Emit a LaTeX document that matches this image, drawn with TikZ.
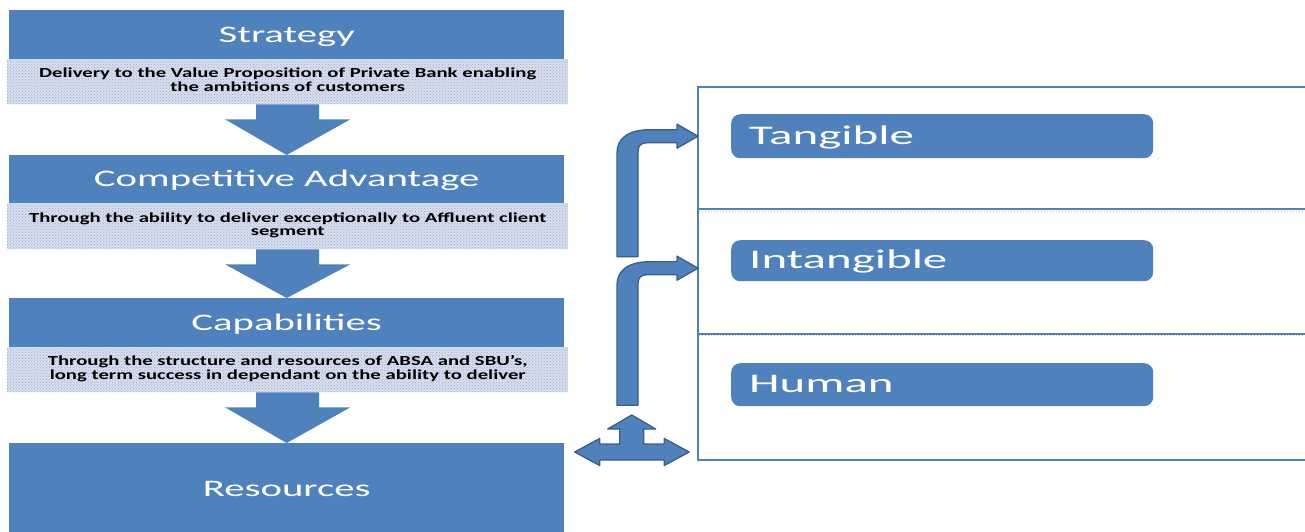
\documentclass[tikz,border=0pt]{standalone}
\usepackage{fontspec}
\setmainfont{Carlito}
\usepackage{graphicx}
\usetikzlibrary{patterns,calc}

\definecolor{boxblue}{HTML}{4F81BD}
\definecolor{edgeblue}{HTML}{385D8A}
\definecolor{bandbase}{HTML}{D6DEEC}
\definecolor{banddot}{HTML}{9DB0D2}

% wide lettering used throughout the chart
\newcommand{\headtxt}[1]{{\fontsize{23.7}{28}\selectfont\scalebox{1.72}[1]{#1}}}
\newcommand{\tagtxt}[1]{{\fontsize{26.9}{30}\selectfont\scalebox{1.82}[1]{#1}}}
\newcommand{\notetxt}[2]{{\fontsize{13.8}{13.5}\selectfont\bfseries\raisebox{-2pt}{\scalebox{1.5}[1]{\begin{tabular}{@{}c@{}}#1\\#2\end{tabular}}}}}

% bent block arrow whose tip sits at the local origin; #1 = shaft length below the tip
\newcommand{\bentarrow}[1]{%
  (-81,#1) -- (-81,16.5) .. controls (-81,2.5) and (-70,-6.5) .. (-48,-6.5)
  -- (-21,-6.5) -- (-21,-12) -- (0,0) -- (-21,12) -- (-21,6.5) -- (-51,6.5)
  .. controls (-57,6.5) and (-60,9.5) .. (-60,15.5) -- (-60,#1) -- cycle}

\begin{document}
\begin{tikzpicture}[x=1pt,y=-1pt,
  headbox/.style={fill=boxblue, text=white, inner sep=0pt, anchor=north west,
                  text height=15.3pt, text depth=0pt},
  band/.style={preaction={fill=bandbase}, pattern=crosshatch dots, pattern color=banddot,
               text=black, inner sep=0pt, anchor=north west},
  tagbox/.style={fill=boxblue, rounded corners=9pt, inner sep=0pt, anchor=north west,
                 minimum width=422pt},
  tagtext/.style={text=white, inner sep=0pt, anchor=base west},
  cell/.style={draw=boxblue, line width=2.2pt, inner sep=0pt, anchor=north west,
               minimum width=613pt},
  seam/.style={draw=banddot!70, line width=1pt, dotted},
  downarrow/.style={fill=boxblue},
  blockarrow/.style={fill=boxblue, draw=edgeblue, line width=1.3pt, line join=round}
]
\useasboundingbox (0,0) rectangle (1305,531);
\clip (0,0) rectangle (1305,531);

% ---- left column: strategy chain ----
\node[headbox, minimum width=555pt, minimum height=49pt] (strategy) at (9,10) {\headtxt{Strategy}};
\node[band, minimum width=561pt, minimum height=45pt] (band1) at (7,59)
  {\notetxt{Delivery to the Value Proposition of Private Bank enabling}{the ambitions of customers}};

\node[headbox, minimum width=555pt, minimum height=48pt] (advantage) at (9,155) {\headtxt{Competitive Advantage}};
\node[band, minimum width=561pt, minimum height=46pt] (band2) at (7,203)
  {\notetxt{Through the ability to deliver exceptionally to Affluent client}{segment}};

\node[headbox, minimum width=555pt, minimum height=49pt] (capabilities) at (9,298) {\headtxt{Capabilities}};
\node[band, minimum width=561pt, minimum height=45pt] (band3) at (7,347)
  {\notetxt{Through the structure and resources of ABSA and SBU’s,}{long term success in dependant on the ability to deliver}};

\node[headbox, minimum width=555pt, minimum height=92pt] (resources) at (9,443) {\headtxt{Resources}};

% down arrows between the stages
\foreach \src/\dst in {band1/advantage, band2/capabilities, band3/resources}{
  \fill[downarrow] ($(\src.south)+(-31.5,0)$) -- ($(\src.south)+(-31.5,15)$)
    -- ($(\src.south)+(-62.5,15)$) -- (\dst.north) -- ($(\src.south)+(62.5,15)$)
    -- ($(\src.south)+(31.5,15)$) -- ($(\src.south)+(31.5,0)$) -- cycle;
}

% ---- right column: resource types ----
\node[cell, minimum height=122pt] (cell1) at (697,86) {};
\node[cell, minimum height=125pt] (cell2) at (697,208) {};
\node[cell, minimum height=126pt] (cell3) at (697,333) {};
\draw[seam] ($(cell2.north west)+(2,3.5)$) -- ($(cell2.north east)+(0,3.5)$);
\draw[seam] ($(cell3.north west)+(2,2.5)$) -- ($(cell3.north east)+(0,2.5)$);

\node[tagbox, minimum height=44pt] (tangible) at (731,114) {};
\node[tagbox, minimum height=41pt] (intangible) at (731,240) {};
\node[tagbox, minimum height=43pt] (human) at (731,363) {};
\node[tagtext] (tangibletxt) at ($(tangible.west)+(18,8)$) {\tagtxt{Tangible}};
\node[tagtext] (intangibletxt) at ($(intangible.west)+(18,8)$) {\tagtxt{Intangible}};
\node[tagtext] (humantxt) at ($(human.west)+(18,8)$) {\tagtxt{Human}};

% ---- connecting block arrows ----
\coordinate (tipA) at ($(tangible.west -| cell1.west)+(1,0)$);
\coordinate (tipB) at ($(intangible.west -| cell2.west)+(1,7.5)$);
\coordinate (hub) at (631.7,452);

\begin{scope}[shift={(tipA)}]
  \path[blockarrow] \bentarrow{120.5};
\end{scope}
\begin{scope}[shift={(tipB)}]
  \path[blockarrow] \bentarrow{137};
\end{scope}
\begin{scope}[shift={(hub)}]
  \path[blockarrow] (0,-37) -- (24,-23) -- (12,-23) -- (12,-8) -- (32.5,-8)
    -- (32.5,-13.5) -- (57.5,0) -- (32.5,13.5) -- (32.5,8) -- (-32,8)
    -- (-32,13.5) -- (-57,0) -- (-32,-13.5) -- (-32,-8) -- (-12,-8)
    -- (-12,-23) -- (-24,-23) -- cycle;
\end{scope}
\end{tikzpicture}
\end{document}
